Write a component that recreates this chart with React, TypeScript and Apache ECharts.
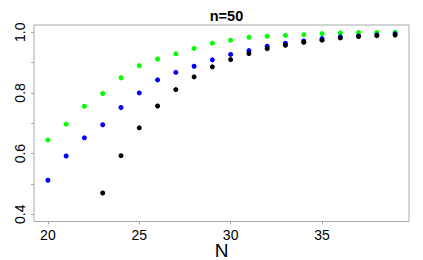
import React, { useEffect, useRef } from "react";
import * as echarts from "echarts";

const Ns = [20, 21, 22, 23, 24, 25, 26, 27, 28, 29, 30, 31, 32, 33, 34, 35, 36, 37, 38, 39];
const greenVals = [0.645, 0.697, 0.756, 0.798, 0.85, 0.89, 0.912, 0.929, 0.947, 0.964, 0.974, 0.9835, 0.987, 0.99, 0.992, 0.9955, 0.998, 0.9995, 0.9995, 1.0];
const blueVals = [0.512, 0.592, 0.652, 0.695, 0.752, 0.8, 0.843, 0.868, 0.888, 0.909, 0.927, 0.9395, 0.954, 0.964, 0.9715, 0.979, 0.985, 0.988, 0.991, 0.995];
const blackVals: (number | null)[] = [null, null, null, 0.47, 0.593, 0.685, 0.757, 0.811, 0.853, 0.886, 0.91, 0.93, 0.946, 0.957, 0.967, 0.974, 0.9815, 0.986, 0.989, 0.991];
const xTicks = [20, 25, 30, 35];
const yTicks = [0.4, 0.5, 0.6, 0.7, 0.8, 0.9, 1.0];
const yLabels = [0.4, 0.6, 0.8, 1.0];
const titleText = "n=50";
const xName = "N";

const FONT = "Liberation Sans, Arial, sans-serif";

function pairs(vals: (number | null)[]) {
  return Ns.map((n, i) => (vals[i] == null ? null : [n, vals[i]])).filter((p) => p !== null);
}

export default function App() {
  const ref = useRef<HTMLDivElement>(null);
  useEffect(() => {
    const chart = echarts.init(ref.current!, null, { renderer: "svg" });
    chart.setOption({
      animation: false,
      title: {
        text: titleText,
        left: 221.5,
        textAlign: "center",
        top: 3,
        textStyle: { fontFamily: FONT, fontWeight: "bold", fontSize: 14.5, color: "#000" },
      },
      grid: {
        left: 34,
        right: 14,
        top: 25,
        bottom: 38.5,
        outerBoundsMode: "none",
        containLabel: false,
        show: true,
        borderColor: "#a8a8a8",
        borderWidth: 1,
        backgroundColor: "transparent",
      },
      xAxis: {
        type: "value",
        min: 19.24,
        max: 39.76,
        name: xName,
        nameLocation: "middle",
        nameGap: 29,
        nameMoveOverlap: false,
        nameTextStyle: { fontFamily: FONT, fontSize: 19, lineHeight: 16, color: "#000", verticalAlign: "middle" },
        axisLine: { show: false },
        splitLine: { show: false },
        axisTick: { show: true, length: 3, lineStyle: { color: "#a8a8a8" }, customValues: xTicks },
        axisLabel: {
          customValues: xTicks,
          fontFamily: FONT,
          fontSize: 14,
          color: "#000",
          margin: 6,
        },
      },
      yAxis: {
        type: "value",
        min: 0.376,
        max: 1.024,
        axisLine: { show: false },
        splitLine: { show: false },
        axisTick: { show: true, length: 3, lineStyle: { color: "#a8a8a8" }, customValues: yTicks },
        axisLabel: {
          customValues: yLabels,
          rotate: 90,
          fontFamily: FONT,
          fontSize: 14,
          color: "#000",
          margin: 7,
          formatter: (v: number) => v.toFixed(1),
        },
      },
      series: [
        { type: "scatter", data: pairs(greenVals), symbolSize: 5, itemStyle: { color: "#00ff00", opacity: 1 } },
        { type: "scatter", data: pairs(blueVals), symbolSize: 5, itemStyle: { color: "#0000ff", opacity: 1 } },
        { type: "scatter", data: pairs(blackVals), symbolSize: 5, itemStyle: { color: "#000000", opacity: 1 } },
      ],
    });
    return () => chart.dispose();
  }, []);
  return <div ref={ref} style={{ width: 423, height: 260, position: "absolute", left: 0, top: 0 }} />;
}
